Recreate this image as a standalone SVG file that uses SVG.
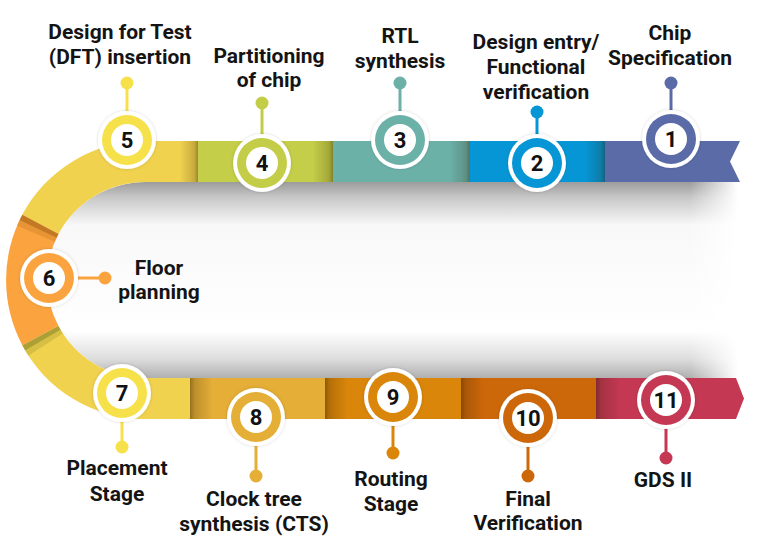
<svg xmlns="http://www.w3.org/2000/svg" width="768" height="552" viewBox="0 0 768 552">
<defs>
<style>
.lbl{font-family:Roboto,"Liberation Sans",sans-serif;font-weight:700;font-size:21px;fill:#141414;text-anchor:middle}
.num{font-family:Roboto,"Liberation Sans",sans-serif;font-weight:700;font-size:22px;fill:#111;text-anchor:middle}
.halo{fill:#fff;filter:url(#ds)}
.inner{fill:#fff}
</style>
<filter id="ds" x="-30%" y="-30%" width="160%" height="160%">
<feDropShadow dx="0" dy="0" stdDeviation="1.6" flood-color="#000" flood-opacity="0.18"/>
</filter>
<linearGradient id="shV" x1="0" y1="182" x2="0" y2="378" gradientUnits="userSpaceOnUse">
<stop offset="0" stop-color="#9c9c9c"/>
<stop offset="0.08" stop-color="#c8c8c8"/>
<stop offset="0.22" stop-color="#f8f8f8"/>
<stop offset="0.76" stop-color="#ffffff"/>
<stop offset="0.9" stop-color="#dedede"/>
<stop offset="1" stop-color="#b0b0b0"/>
</linearGradient>
<linearGradient id="fadeH" x1="690" y1="0" x2="738" y2="0" gradientUnits="userSpaceOnUse">
<stop offset="0" stop-color="#fff"/>
<stop offset="1" stop-color="#000"/>
</linearGradient>
<mask id="mk"><rect x="0" y="0" width="768" height="552" fill="url(#fadeH)"/></mask>
<linearGradient id="dR" x1="0" y1="0" x2="1" y2="0">
<stop offset="0" stop-color="#000" stop-opacity="0"/>
<stop offset="0.55" stop-color="#2a1a00" stop-opacity="0.14"/>
<stop offset="0.8" stop-color="#2a1a00" stop-opacity="0.22"/>
<stop offset="1" stop-color="#2a1a00" stop-opacity="0.42"/>
</linearGradient>
<linearGradient id="dL" x1="1" y1="0" x2="0" y2="0">
<stop offset="0" stop-color="#000" stop-opacity="0"/>
<stop offset="0.55" stop-color="#2a1a00" stop-opacity="0.14"/>
<stop offset="0.8" stop-color="#2a1a00" stop-opacity="0.22"/>
<stop offset="1" stop-color="#2a1a00" stop-opacity="0.42"/>
</linearGradient>
</defs>

<rect width="768" height="552" fill="#fff"/>

<g id="track">
<path d="M738,182 L145,182 A98,98 0 0 0 145,378 L738,378 Z" fill="url(#shV)" mask="url(#mk)"/>
<path d="M198,141 L145,141 A139,139 0 0 0 22.3,214.8 L58.5,234 A98,98 0 0 1 145,182 L198,182 Z" fill="#F1D24F"/>
<rect x="198" y="141" width="135" height="41" fill="#C4CE48"/>
<rect x="333" y="141" width="137" height="41" fill="#6CB1A8"/>
<rect x="470" y="141" width="135" height="41" fill="#0796D5"/>
<polygon points="605,141 740,141 730,161.5 740,182 605,182" fill="#5A6BA7"/>
<path d="M22.3,214.8 A139,139 0 0 0 22.3,345.2 L58.5,326 A98,98 0 0 1 58.5,234 Z" fill="#FBA43F"/>
<path d="M22.3,345.2 A139,139 0 0 0 145,419 L190,419 L190,378 L145,378 A98,98 0 0 1 58.5,326 Z" fill="#F1D24F"/>
<rect x="190" y="378" width="135" height="41" fill="#E4AE37"/>
<rect x="325" y="378" width="136" height="41" fill="#D9860A"/>
<rect x="461" y="378" width="135" height="41" fill="#CC680A"/>
<polygon points="596,378 736,378 744,398.5 736,419 596,419" fill="#C43853"/>
<rect x="180" y="141" width="18" height="41" fill="url(#dR)"/>
<rect x="313" y="141" width="20" height="41" fill="url(#dR)"/>
<rect x="450" y="141" width="20" height="41" fill="url(#dR)"/>
<rect x="585" y="141" width="20" height="41" fill="url(#dR)"/>
<rect x="190" y="378" width="22" height="41" fill="url(#dL)"/>
<rect x="325" y="378" width="22" height="41" fill="url(#dL)"/>
<rect x="461" y="378" width="22" height="41" fill="url(#dL)"/>
<rect x="596" y="378" width="24" height="41" fill="url(#dL)"/>
<polygon points="22.3,214.8 58.5,234 56.5,237.8 19.5,220.2" fill="#B06A1C" opacity="0.75"/>
<polygon points="19.5,220.2 56.5,237.8 54.8,241.7 17.1,225.7" fill="#D98A2E" opacity="0.6"/>
<polygon points="22.3,345.2 58.5,326 60.6,329.7 25.2,350.5" fill="#8E8A2A" opacity="0.7"/>
<polygon points="25.2,350.5 60.6,329.7 62.8,333.4 28.4,355.7" fill="#C4B23E" opacity="0.6"/>
</g>

<g id="connectors" stroke-width="3">
<line x1="127" y1="83" x2="127" y2="112" stroke="#F6E14B"/><circle cx="127" cy="83" r="6.5" fill="#F6E14B"/>
<line x1="262" y1="103" x2="262" y2="135" stroke="#C3CD47"/><circle cx="262" cy="103" r="6.5" fill="#C3CD47"/>
<line x1="400" y1="83" x2="400" y2="112" stroke="#6CB1A8"/><circle cx="400" cy="83" r="6.5" fill="#6CB1A8"/>
<line x1="537" y1="112" x2="537" y2="135" stroke="#0796D5"/><circle cx="537" cy="112" r="6.5" fill="#0796D5"/>
<line x1="671" y1="83" x2="671" y2="112" stroke="#5A6BA7"/><circle cx="671" cy="83" r="6.5" fill="#5A6BA7"/>
<line x1="76" y1="278" x2="105" y2="278" stroke="#FBA43F"/><circle cx="105" cy="278" r="6.5" fill="#FBA43F"/>
<line x1="122" y1="420" x2="122" y2="447" stroke="#F6E14B"/><circle cx="122" cy="447" r="6.5" fill="#F6E14B"/>
<line x1="256" y1="445" x2="256" y2="476" stroke="#E4AE37"/><circle cx="256" cy="476" r="6.5" fill="#E4AE37"/>
<line x1="393" y1="425" x2="393" y2="453" stroke="#D9860A"/><circle cx="393" cy="453" r="6.5" fill="#D9860A"/>
<line x1="528" y1="446" x2="528" y2="476" stroke="#CC680A"/><circle cx="528" cy="476" r="6.5" fill="#CC680A"/>
<line x1="666" y1="428" x2="666" y2="458" stroke="#C43853"/><circle cx="666" cy="458" r="6.5" fill="#C43853"/>
</g>

<g id="n1">
<circle class="halo" cx="671" cy="139" r="29"/><circle cx="671" cy="139" r="25" fill="#5A6BA7"/><circle class="inner" cx="671" cy="139" r="16"/>
<text class="num" x="671" y="147">1</text>
<text class="lbl" x="670" y="40">Chip</text><text class="lbl" x="670" y="65">Specification</text>
</g>
<g id="n2">
<circle class="halo" cx="537" cy="163" r="29"/><circle cx="537" cy="163" r="25" fill="#0796D5"/><circle class="inner" cx="537" cy="163" r="16"/>
<text class="num" x="537" y="171">2</text>
<text class="lbl" x="536" y="49">Design entry/</text><text class="lbl" x="536" y="74">Functional</text><text class="lbl" x="536" y="99">verification</text>
</g>
<g id="n3">
<circle class="halo" cx="400" cy="140" r="29"/><circle cx="400" cy="140" r="25" fill="#6CB1A8"/><circle class="inner" cx="400" cy="140" r="16"/>
<text class="num" x="400" y="148">3</text>
<text class="lbl" x="400" y="43">RTL</text><text class="lbl" x="400" y="68">synthesis</text>
</g>
<g id="n4">
<circle class="halo" cx="262" cy="163" r="29"/><circle cx="262" cy="163" r="25" fill="#C3CD47"/><circle class="inner" cx="262" cy="163" r="16"/>
<text class="num" x="262" y="171">4</text>
<text class="lbl" x="269" y="63">Partitioning</text><text class="lbl" x="269" y="87">of chip</text>
</g>
<g id="n5">
<circle class="halo" cx="127" cy="140" r="29"/><circle cx="127" cy="140" r="25" fill="#F6E14B"/><circle class="inner" cx="127" cy="140" r="16"/>
<text class="num" x="127" y="148">5</text>
<text class="lbl" x="120" y="39">Design for Test</text><text class="lbl" x="120" y="64">(DFT) insertion</text>
</g>
<g id="n6">
<circle class="halo" cx="49" cy="278" r="29"/><circle cx="49" cy="278" r="25" fill="#FBA43F"/><circle class="inner" cx="49" cy="278" r="16"/>
<text class="num" x="49" y="286">6</text>
<text class="lbl" x="159" y="275">Floor</text><text class="lbl" x="159" y="299">planning</text>
</g>
<g id="n7">
<circle class="halo" cx="122" cy="393" r="29"/><circle cx="122" cy="393" r="25" fill="#F6E14B"/><circle class="inner" cx="122" cy="393" r="16"/>
<text class="num" x="122" y="401">7</text>
<text class="lbl" x="117" y="475">Placement</text><text class="lbl" x="117" y="501">Stage</text>
</g>
<g id="n8">
<circle class="halo" cx="256" cy="417" r="29"/><circle cx="256" cy="417" r="25" fill="#E4AE37"/><circle class="inner" cx="256" cy="417" r="16"/>
<text class="num" x="256" y="425">8</text>
<text class="lbl" x="254" y="506">Clock tree</text><text class="lbl" x="254" y="531">synthesis (CTS)</text>
</g>
<g id="n9">
<circle class="halo" cx="393" cy="397" r="29"/><circle cx="393" cy="397" r="25" fill="#D9860A"/><circle class="inner" cx="393" cy="397" r="16"/>
<text class="num" x="393" y="405">9</text>
<text class="lbl" x="391" y="486">Routing</text><text class="lbl" x="391" y="511">Stage</text>
</g>
<g id="n10">
<circle class="halo" cx="528" cy="418" r="29"/><circle cx="528" cy="418" r="25" fill="#CC680A"/><circle class="inner" cx="528" cy="418" r="16"/>
<text class="num" x="528" y="426">10</text>
<text class="lbl" x="528" y="506">Final</text><text class="lbl" x="528" y="530">Verification</text>
</g>
<g id="n11">
<circle class="halo" cx="666" cy="400" r="29"/><circle cx="666" cy="400" r="25" fill="#C43853"/><circle class="inner" cx="666" cy="400" r="16"/>
<text class="num" x="666" y="408">11</text>
<text class="lbl" x="663" y="487">GDS II</text>
</g>
</svg>
